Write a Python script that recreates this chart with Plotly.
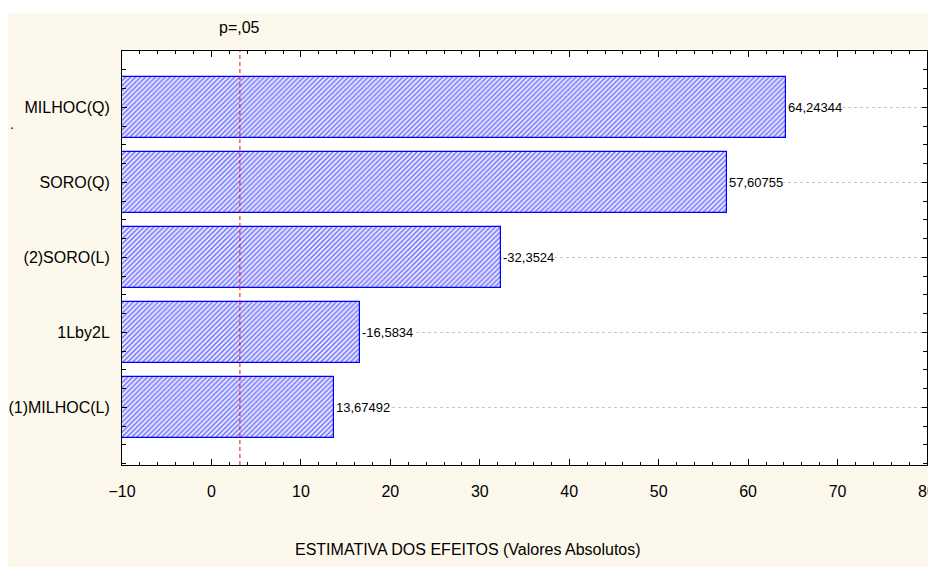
import plotly.graph_objects as go

# ---- data ----
labels = ["MILHOC(Q)", "SORO(Q)", "(2)SORO(L)", "1Lby2L", "(1)MILHOC(L)"]
effects = [64.24344, 57.60755, -32.3524, -16.5834, 13.67492]
p_value_label = "p=,05"
t_crit = 3.182
x_ticks = [-10, 0, 10, 20, 30, 40, 50, 60, 70, 80]
x_title = "ESTIMATIVA DOS EFEITOS (Valores Absolutos)"

XMIN, XMAX = -10, 80
n = len(labels)
ypos = [n - 1 - i for i in range(n)]
absvals = [abs(v) for v in effects]

FONT = "Arial, Liberation Sans, sans-serif"
CREAM = "#FDF8EC"
BLUE = "#0000FF"
TXT = "#000"

# page body has an 8px margin; figure is placed at (8, 8)
W, H = 928, 559
ML, MR, MT, MB = 114, 9, 43, 102
PW = W - ML - MR
PH = H - MT - MB

fig = go.Figure()
fig.add_trace(go.Bar(
    y=ypos,
    x=[a - XMIN for a in absvals],
    base=XMIN,
    orientation="h",
    width=0.81,
    marker=dict(
        color="white",
        line=dict(color=BLUE, width=1.2),
        pattern=dict(shape="/", fgcolor="#1010ff", bgcolor="white", size=3.5, solidity=0.6),
    ),
    hoverinfo="skip",
))

# significance line
fig.add_shape(type="line", xref="x", yref="paper", x0=t_crit, x1=t_crit, y0=0, y1=1,
              line=dict(color="#E0101A", width=1, dash="4px,3px"))

annotations = []
for a, v, y in zip(absvals, effects, ypos):
    annotations.append(dict(
        x=a, y=y, xref="x", yref="y", text=f"{v}".replace(".", ","),
        showarrow=False, xanchor="left", yanchor="middle", xshift=1,
        bgcolor="white", borderpad=0,
        font=dict(family=FONT, size=13, color=TXT),
    ))
annotations.append(dict(
    x=t_crit, y=1, xref="x", yref="paper", text=p_value_label, showarrow=False,
    xanchor="center", yanchor="middle", yshift=24,
    font=dict(family=FONT, size=16, color=TXT),
))
annotations.append(dict(
    x=(468 - 8 - ML) / PW, y=0, xref="paper", yref="paper", text=x_title, showarrow=False,
    xanchor="center", yanchor="middle", yshift=-84,
    font=dict(family=FONT, size=16, color=TXT),
))
annotations.append(dict(
    x=-ML / PW, y=1 - (122 - 8 - MT) / PH, xref="paper", yref="paper", text=".", showarrow=False,
    xanchor="left", yanchor="middle", xshift=0, yshift=-2,
    font=dict(family=FONT, size=14, color="#000"),
))

# white strip along the top edge of the picture
fig.add_shape(type="rect", xref="paper", yref="paper", layer="below",
              x0=-ML / PW - 0.01, x1=1 + MR / PW + 0.01, y0=1 + (MT - 5) / PH, y1=1 + MT / PH + 0.01,
              fillcolor="white", line=dict(width=0))

fig.update_layout(
    width=W, height=H,
    margin=dict(l=ML, r=MR, t=MT, b=MB, pad=0, autoexpand=False),
    paper_bgcolor=CREAM,
    plot_bgcolor="white",
    showlegend=False,
    bargap=0,
    annotations=annotations,
    font=dict(family=FONT, size=16, color=TXT),
)
fig.update_xaxes(
    range=[XMIN, XMAX], tickvals=x_ticks, ticks="inside", ticklen=6, tickcolor="#000",
    showline=True, linecolor="#000", linewidth=1, mirror="ticks",
    showgrid=False, zeroline=False, ticklabelstandoff=12, automargin=False,
    tickfont=dict(family=FONT, size=16, color=TXT),
    minor=dict(tickmode="linear", tick0=0, dtick=2, ticks="inside", ticklen=3, tickcolor="#000", showgrid=False),
)
fig.update_yaxes(
    range=[-0.767, 4.753], tickmode="array", tickvals=ypos, ticktext=labels,
    ticks="inside", ticklen=5, tickcolor="#000",
    showline=True, linecolor="#000", linewidth=1, mirror="ticks",
    showgrid=True, gridcolor="#C8C8C8", griddash="dot", gridwidth=1,
    zeroline=False, ticklabelstandoff=8, automargin=False,
    tickfont=dict(family=FONT, size=16, color=TXT),
    minor=dict(tickmode="linear", tick0=0, dtick=0.25, ticks="inside", ticklen=4, tickcolor="#000", showgrid=False),
)

fig.write_html("out.html")
